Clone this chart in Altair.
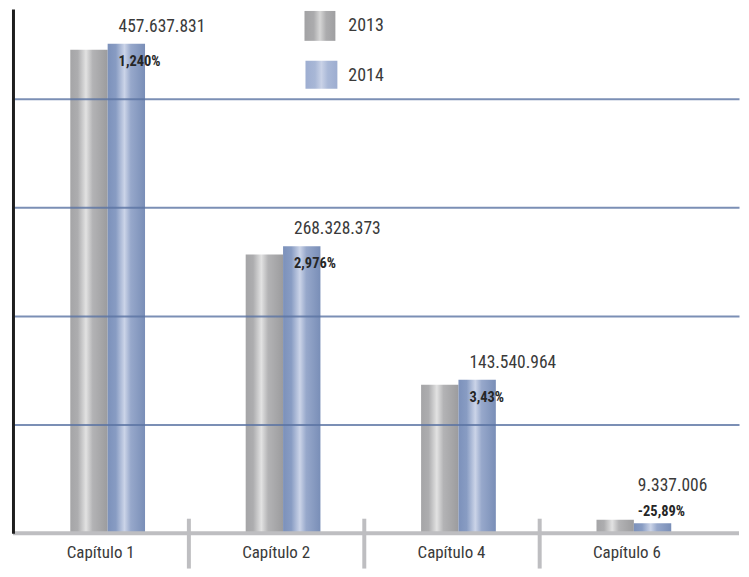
import altair as alt
import pandas as pd

# ---------------- data ----------------
CATEGORIES = ["Capítulo 1", "Capítulo 2", "Capítulo 4", "Capítulo 6"]
YEARS = ["2013", "2014"]
VALUES_2013 = [452_030_000, 260_570_000, 138_780_000, 12_600_000]
VALUES_2014 = [457_637_831, 268_328_373, 143_540_964, 9_337_006]
CHANGE_LABELS = ["1,240%", "2,976%", "3,43%", "-25,89%"]
GRID_VALUES = [101.7e6, 203.4e6, 305.1e6, 406.8e6]
Y_MAX = 490.25e6

FONT = "Noto Sans ExtraCondensed, Noto Sans Condensed, Roboto Condensed, DejaVu Sans Condensed, sans-serif"

rows = []
for cap, v13, v14 in zip(CATEGORIES, VALUES_2013, VALUES_2014):
    rows.append({"cap": cap, "year": YEARS[0], "value": v13})
    rows.append({"cap": cap, "year": YEARS[1], "value": v14})
bars_df = pd.DataFrame(rows)

labels_df = pd.DataFrame({
    "cap": CATEGORIES,
    "year": [YEARS[1]] * len(CATEGORIES),
    "value": VALUES_2014,
    "vlabel": [f"{v:,}".replace(",", ".") for v in VALUES_2014],
    "plabel": CHANGE_LABELS,
})
legend_df = pd.DataFrame({"year": YEARS})
base_df = pd.DataFrame({"base": [0]})


def grad(stops):
    return alt.Gradient(
        gradient="linear",
        stops=[alt.GradientStop(color=c, offset=o) for o, c in stops],
        x1=0, x2=1, y1=0, y2=0,
    )


GRAY = grad([(0, "#a5a5a7"), (0.2, "#adadaf"), (0.42, "#e2e2e2"), (0.6, "#b3b3b5"), (1, "#9c9c9e")])
BLUE = grad([(0, "#7c91bb"), (0.22, "#889cc3"), (0.45, "#cbd4e8"), (0.62, "#97a8cb"), (1, "#798eb7")])
GRAY_LEG = grad([(0, "#a2a2a4"), (0.3, "#ababad"), (0.5, "#d6d6d6"), (0.7, "#acacae"), (1, "#9f9fa1")])
BLUE_LEG = grad([(0, "#9eaed1"), (0.3, "#a8b7d6"), (0.5, "#c9d2e7"), (0.7, "#a9b8d7"), (1, "#9dadd0")])

BAR_W = 37.5

x_enc = alt.X(
    "cap:N",
    sort=CATEGORIES,
    scale=alt.Scale(domain=CATEGORIES, paddingInner=0, paddingOuter=0.0696, align=0),
    axis=alt.Axis(
        title=None, domain=False, offset=-15, bandPosition=0,
        ticks=True, tickSize=50, tickWidth=4,
        tickColor={"condition": {"test": "datum.value === 'Capítulo 1'", "value": "transparent"},
                   "value": "#bebec1"},
        labelPadding=-16, labelBaseline="middle", labelAngle=0,
        labelFont=FONT, labelFontSize=17, labelColor="#3a3a3a",
    ),
)
y_enc = alt.Y(
    "value:Q",
    scale=alt.Scale(domain=[0, Y_MAX], nice=False, zero=True),
    axis=alt.Axis(
        title=None, labels=False, ticks=False,
        domain=True, domainColor="#1e1e1e", domainWidth=3,
        grid=True, values=GRID_VALUES, gridColor="#5a73a3", gridWidth=2, gridOpacity=0.8,
        zindex=1,
    ),
)

bars13 = alt.Chart(bars_df).transform_filter(alt.datum.year == YEARS[0]).mark_bar(
    fill=GRAY, width=BAR_W, xOffset=-11.75).encode(x=x_enc, y=y_enc)
bars14 = alt.Chart(bars_df).transform_filter(alt.datum.year == YEARS[1]).mark_bar(
    fill=BLUE, width=BAR_W, xOffset=25.75).encode(x="cap:N", y="value:Q")

baseline = alt.Chart(base_df).mark_rule(color="#bebec1", strokeWidth=4).encode(
    y=alt.Y("base:Q"))

inside = alt.datum.cap != CATEGORIES[-1]
outside = alt.datum.cap == CATEGORIES[-1]

val_main = alt.Chart(labels_df).transform_filter(inside).mark_text(
    align="left", baseline="middle", dx=18, dy=-17,
    font=FONT, fontSize=17.5, color="#3a3a3a",
).encode(x="cap:N", y="value:Q", text="vlabel:N")
pct_main = alt.Chart(labels_df).transform_filter(inside).mark_text(
    align="left", baseline="middle", dx=18, dy=18,
    font=FONT, fontSize=14.5, fontWeight="bold", color="#262626",
).encode(x="cap:N", y="value:Q", text="plabel:N")
val_out = alt.Chart(labels_df).transform_filter(outside).mark_text(
    align="left", baseline="middle", dx=11, dy=-37,
    font=FONT, fontSize=17.5, color="#3a3a3a",
).encode(x="cap:N", y="value:Q", text="vlabel:N")
pct_out = alt.Chart(labels_df).transform_filter(outside).mark_text(
    align="left", baseline="middle", dx=11, dy=-11,
    font=FONT, fontSize=14.5, fontWeight="bold", color="#262626",
).encode(x="cap:N", y="value:Q", text="plabel:N")

leg13 = alt.Chart(legend_df).transform_filter(alt.datum.year == YEARS[0]).mark_rect(
    fill=GRAY_LEG).encode(x=alt.value(292.5), x2=alt.value(323.5), y=alt.value(2), y2=alt.value(32))
leg14 = alt.Chart(legend_df).transform_filter(alt.datum.year == YEARS[1]).mark_rect(
    fill=BLUE_LEG).encode(x=alt.value(293.5), x2=alt.value(325.5), y=alt.value(52), y2=alt.value(80))
legt13 = alt.Chart(legend_df).transform_filter(alt.datum.year == YEARS[0]).mark_text(
    align="left", baseline="middle", font=FONT, fontSize=18, color="#3a3a3a").encode(
    x=alt.value(336.5), y=alt.value(17), text="year:N")
legt14 = alt.Chart(legend_df).transform_filter(alt.datum.year == YEARS[1]).mark_text(
    align="left", baseline="middle", font=FONT, fontSize=18, color="#3a3a3a").encode(
    x=alt.value(336.5), y=alt.value(67), text="year:N")

chart = alt.layer(
    bars13, bars14, baseline, val_main, pct_main, val_out, pct_out,
    leg13, leg14, legt13, legt14,
).properties(
    width=728.5, height=526,
    padding={"left": 3, "top": 0, "right": 0, "bottom": 0},
    background="white",
).configure_view(stroke=None)

chart.save("out.html", embed_options={"renderer": "svg", "actions": False})
